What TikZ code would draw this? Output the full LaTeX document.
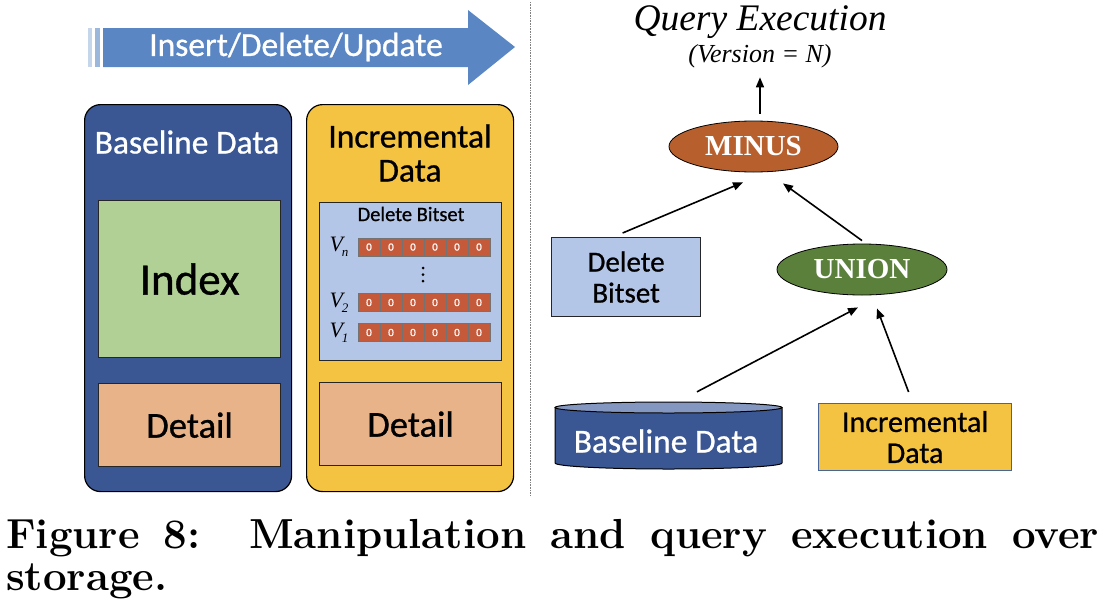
\documentclass[tikz,border=0pt]{standalone}
\usepackage{fontspec}
\newfontfamily\calib[FakeBold=0.8]{Carlito}
\newfontfamily\tnr{Liberation Serif}
\usetikzlibrary{arrows.meta,calc,shapes.geometric}
\definecolor{blbox}{RGB}{59,87,147}
\definecolor{ybox}{RGB}{244,195,66}
\definecolor{idxgreen}{RGB}{177,208,149}
\definecolor{detorange}{RGB}{233,179,137}
\definecolor{lightblue}{RGB}{180,198,231}
\definecolor{cellred}{RGB}{197,90,59}
\definecolor{minusbrown}{RGB}{183,96,45}
\definecolor{uniongreen}{RGB}{91,128,60}
\definecolor{arrowblue}{RGB}{90,135,196}
\definecolor{cyltop}{RGB}{132,151,192}
\definecolor{incborder}{RGB}{70,100,160}
\newcommand{\fs}[1]{\fontsize{#1}{#1}\selectfont}
\begin{document}
\begin{tikzpicture}[x=1pt,y=-1pt,
  font=\calib,
  bigbox/.style={draw=black, line width=1.2pt, rounded corners=16pt, anchor=north west, inner sep=0pt},
  inbox/.style={draw=black!85, line width=1.2pt, anchor=north west, inner sep=0pt},
  arr/.style={-{Triangle[length=10pt,width=8pt]}, line width=1.6pt},
  cell/.style={draw=black!55, line width=0.6pt, fill=cellred, minimum width=22pt, minimum height=18pt, inner sep=0pt, text=white, font=\calib\fs{11}},
  oval/.style={ellipse, draw=black, line width=0.8pt, inner sep=0pt, text=white, font=\tnr\bfseries\fs{29}},
  vlab/.style={font=\tnr\itshape\fs{22}, inner sep=0pt}
]
\useasboundingbox (0,0) rectangle (1100,600);

% manipulation arrow
\fill[arrowblue] (103,28) -- (468,28) -- (468,10) -- (515,47) -- (468,85) -- (468,67) -- (103,67) -- cycle;
\fill[arrowblue!35!white] (88,28) rectangle (92,67);
\fill[arrowblue!60!white] (95,28) rectangle (100,67);
\node[text=white, font=\calib\fs{33.5}] (ins) at (296,47) {Insert/Delete/Update};

% separator
\draw[gray, densely dotted, line width=0.6pt] (530,2) -- (530,496);

% baseline data box
\node[bigbox, fill=blbox, minimum width=207pt, minimum height=387pt] (basebox) at (84,104) {};
\node[text=white, font=\calib\fs{33.5}] (basetitle) at (187,142) {Baseline Data};
\node[inbox, fill=idxgreen, minimum width=182pt, minimum height=157pt, font=\calib\fs{45}] (index) at (98,200) {Index};
\node[inbox, fill=detorange, minimum width=182pt, minimum height=83pt, font=\calib\fs{36.5}] (det1) at (98,383) {Detail};

% incremental data box
\node[bigbox, fill=ybox, minimum width=207pt, minimum height=387pt] (incbox) at (306,104) {};
\node[align=center, font=\calib\fontsize{33.5}{34}\selectfont] (inctitle) at (410,153) {Incremental\\Data};
\node[inbox, fill=lightblue, minimum width=182pt, minimum height=158pt] (bitset) at (319,202) {};
\node[font=\calib\fs{20.5}] (bitsettitle) at (411,214) {Delete Bitset};
\foreach \r/\yy in {n/247,2/302.5,1/332.5}{
  \foreach \i in {0,...,5}{
    \node[cell] (c\r\i) at (369+22*\i,\yy) {0};
  }
  \node[vlab] (v\r) at (339,\yy) {V\kern-1pt\raisebox{-5pt}{\fs{13}\r}};
}
\fill (423,268) circle (1.5pt);
\fill (423,274.5) circle (1.5pt);
\fill (423,281) circle (1.5pt);
\node[inbox, fill=detorange, minimum width=182pt, minimum height=83pt, font=\calib\fs{36.5}] (det2) at (319,382) {Detail};

% query execution
\node[font=\tnr\itshape\fs{37.5}] (qe) at (760,22) {Query Execution};
\node[font=\tnr\itshape\fs{26}] (ver) at (760,56) {(Version = N)};
\node[oval, fill=minusbrown, minimum width=169pt, minimum height=51pt] (minus) at (753.5,146.5) {MINUS};
\node[inbox, fill=lightblue, minimum width=149pt, minimum height=79pt, align=center, font=\calib\fontsize{29}{31}\selectfont] (dbs) at (551,237) {Delete\\Bitset};
\node[oval, fill=uniongreen, minimum width=170pt, minimum height=51pt] (union) at (862,269.5) {UNION};

% cylinder
\fill[blbox, draw=black, line width=1pt] (555,407.5) -- (555,463) arc[start angle=180, end angle=360, x radius=113.5pt, y radius=6pt] -- (782,407.5) -- cycle;
\draw[fill=cyltop, line width=1pt] (668.5,407.5) ellipse [x radius=113.5pt, y radius=5.5pt];
\node[minimum width=227pt, minimum height=56pt, text=white, font=\calib\fs{33.5}] (base) at (666,441) {Baseline Data};

\node[draw=incborder, line width=1.2pt, fill=ybox, minimum width=193pt, minimum height=67pt, anchor=north west, inner sep=0pt, align=center, font=\calib\fontsize{30}{31}\selectfont] (incr) at (818,403) {Incremental\\Data};

% connectors
\draw[arr] ($(minus.north)+(6.5,-7)$) -- ($(ver.south)+(0,6)$);
\draw[arr] ($(dbs.north)+(-3.5,-4)$) -- ($(minus.south)+(-10.5,10)$);
\draw[arr] ($(union.north)+(0,-3)$) -- ($(minus.south)+(29.5,11)$);
\draw[arr] ($(base.north)+(31,-21)$) -- ($(union.south)+(-4,12)$);
\draw[arr] ($(incr.north)+(-6.5,-11)$) -- ($(union.south)+(15,13)$);

% caption
\node[anchor=base west, inner sep=0pt, font=\rmfamily\bfseries\fs{42}] (cap1) at (6,548) {\makebox[1093pt][s]{Figure 8:\ \ Manipulation and query execution over}};
\node[anchor=base west, inner sep=0pt, font=\rmfamily\bfseries\fs{42}] (cap2) at (6,590) {storage.};
\end{tikzpicture}
\end{document}
